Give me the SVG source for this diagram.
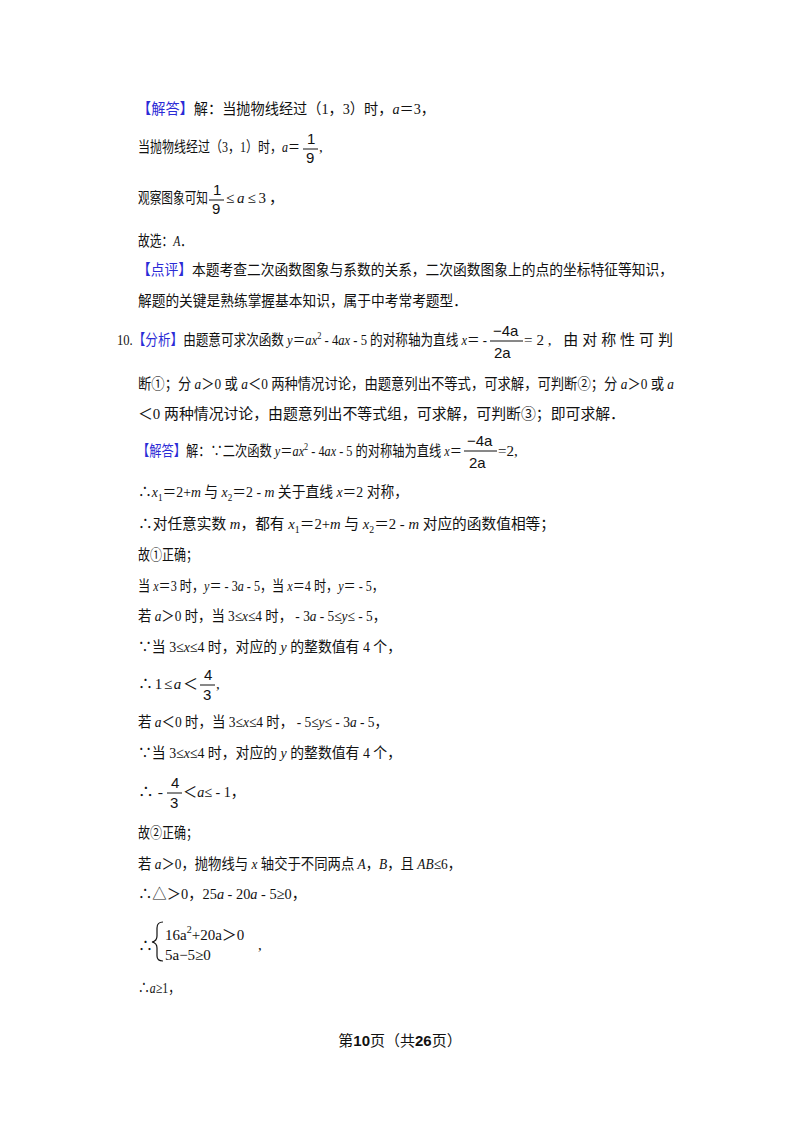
<svg xmlns="http://www.w3.org/2000/svg" width="800" height="1132" viewBox="0 0 800 1132">
<style>
text{font-family:"Liberation Serif","Noto Sans CJK SC",serif;font-size:15px;fill:#111}
.b{fill:#2b2bd6}
.i{font-style:italic}
.f{font-family:"Liberation Sans","Noto Sans CJK SC",sans-serif;font-size:15px}
.s{font-size:10px}
</style>
<rect width="800" height="1132" fill="#fff"/>
<text x="137" y="114" textLength="298" lengthAdjust="spacingAndGlyphs"><tspan class="b">【解答】</tspan>解：当抛物线经过（1，3）时，<tspan class="i">a</tspan>＝3，</text>
<text x="138" y="152" textLength="162" lengthAdjust="spacingAndGlyphs">当抛物线经过（3，1）时，<tspan class="i">a</tspan>＝</text>
<text x="307" y="144" class="f">1</text><line x1="303" y1="149" x2="318" y2="149" stroke="#111"/><text x="306" y="163" class="f">9</text><text x="319" y="152">,</text>
<text x="138" y="203" textLength="70" lengthAdjust="spacingAndGlyphs">观察图象可知</text>
<text x="213" y="195" class="f">1</text><line x1="209" y1="200" x2="224" y2="200" stroke="#111"/><text x="212" y="214" class="f">9</text>
<text x="226" y="203" textLength="58">≤<tspan class="i">a</tspan>≤3，</text>
<text x="138" y="246" textLength="54" lengthAdjust="spacingAndGlyphs">故选：<tspan class="i">A</tspan>．</text>
<text x="137" y="275" textLength="536" lengthAdjust="spacingAndGlyphs"><tspan class="b">【点评】</tspan>本题考查二次函数图象与系数的关系，二次函数图象上的点的坐标特征等知识，</text>
<text x="138" y="306" textLength="329" lengthAdjust="spacingAndGlyphs">解题的关键是熟练掌握基本知识，属于中考常考题型．</text>
<text x="117" y="345" textLength="370" lengthAdjust="spacingAndGlyphs">10.<tspan class="b">【分析】</tspan>由题意可求次函数 <tspan class="i">y</tspan>＝<tspan class="i">ax</tspan><tspan class="s" dy="-6">2</tspan><tspan dy="6"> - 4</tspan><tspan class="i">ax</tspan> - 5 的对称轴为直线 <tspan class="i">x</tspan>＝ -</text>
<text x="493" y="336" class="f">−4a</text><line x1="490" y1="341" x2="523" y2="341" stroke="#111"/><text x="494" y="358" class="f">2a</text>
<text x="524" y="345" textLength="149">=2, 由对称性可判</text>
<text x="138" y="389" textLength="536" lengthAdjust="spacingAndGlyphs">断①；分 <tspan class="i">a</tspan>＞0 或 <tspan class="i">a</tspan>＜0 两种情况讨论，由题意列出不等式，可求解，可判断②；分 <tspan class="i">a</tspan>＞0 或 <tspan class="i">a</tspan></text>
<text x="138" y="419" textLength="487" lengthAdjust="spacingAndGlyphs">＜0 两种情况讨论，由题意列出不等式组，可求解，可判断③；即可求解．</text>
<text x="137" y="456" textLength="325" lengthAdjust="spacingAndGlyphs"><tspan class="b">【解答】</tspan>解：∵二次函数 <tspan class="i">y</tspan>＝<tspan class="i">ax</tspan><tspan class="s" dy="-6">2</tspan><tspan dy="6"> - 4</tspan><tspan class="i">ax</tspan> - 5 的对称轴为直线 <tspan class="i">x</tspan>＝</text>
<text x="467" y="446" class="f">−4a</text><line x1="464" y1="451" x2="497" y2="451" stroke="#111"/><text x="469" y="468" class="f">2a</text>
<text x="498" y="456">=2,</text>
<text x="138" y="497" textLength="270" lengthAdjust="spacingAndGlyphs">∴<tspan class="i">x</tspan><tspan class="s" dy="4">1</tspan><tspan dy="-4">＝2+</tspan><tspan class="i">m</tspan> 与 <tspan class="i">x</tspan><tspan class="s" dy="4">2</tspan><tspan dy="-4">＝2 - </tspan><tspan class="i">m</tspan> 关于直线 <tspan class="i">x</tspan>＝2 对称，</text>
<text x="138" y="529" textLength="417" lengthAdjust="spacingAndGlyphs">∴对任意实数 <tspan class="i">m</tspan>，都有 <tspan class="i">x</tspan><tspan class="s" dy="4">1</tspan><tspan dy="-4">＝2+</tspan><tspan class="i">m</tspan> 与 <tspan class="i">x</tspan><tspan class="s" dy="4">2</tspan><tspan dy="-4">＝2 - </tspan><tspan class="i">m</tspan> 对应的函数值相等；</text>
<text x="138" y="560" textLength="60" lengthAdjust="spacingAndGlyphs">故①正确；</text>
<text x="138" y="591" textLength="246" lengthAdjust="spacingAndGlyphs">当 <tspan class="i">x</tspan>＝3 时，<tspan class="i">y</tspan>＝ - 3<tspan class="i">a</tspan> - 5，当 <tspan class="i">x</tspan>＝4 时，<tspan class="i">y</tspan>＝ - 5，</text>
<text x="138" y="621" textLength="248" lengthAdjust="spacingAndGlyphs">若 <tspan class="i">a</tspan>＞0 时，当 3≤<tspan class="i">x</tspan>≤4 时， - 3<tspan class="i">a</tspan> - 5≤<tspan class="i">y</tspan>≤ - 5，</text>
<text x="138" y="652" textLength="263" lengthAdjust="spacingAndGlyphs">∵当 3≤<tspan class="i">x</tspan>≤4 时，对应的 <tspan class="i">y</tspan> 的整数值有 4 个，</text>
<text x="138" y="689" textLength="60">∴1≤<tspan class="i">a</tspan>＜</text>
<text x="204" y="680" class="f">4</text><line x1="200" y1="685" x2="215" y2="685" stroke="#111"/><text x="203" y="700" class="f">3</text><text x="216" y="689">,</text>
<text x="138" y="727" textLength="250" lengthAdjust="spacingAndGlyphs">若 <tspan class="i">a</tspan>＜0 时，当 3≤<tspan class="i">x</tspan>≤4 时， - 5≤<tspan class="i">y</tspan>≤ - 3<tspan class="i">a</tspan> - 5，</text>
<text x="138" y="758" textLength="263" lengthAdjust="spacingAndGlyphs">∵当 3≤<tspan class="i">x</tspan>≤4 时，对应的 <tspan class="i">y</tspan> 的整数值有 4 个，</text>
<text x="138" y="797" textLength="25" lengthAdjust="spacingAndGlyphs">∴ -</text>
<text x="171" y="788" class="f">4</text><line x1="167" y1="793" x2="182" y2="793" stroke="#111"/><text x="170" y="808" class="f">3</text>
<text x="183" y="797" textLength="62" lengthAdjust="spacingAndGlyphs">＜<tspan class="i">a</tspan>≤ - 1，</text>
<text x="138" y="838" textLength="60" lengthAdjust="spacingAndGlyphs">故②正确；</text>
<text x="138" y="869" textLength="323" lengthAdjust="spacingAndGlyphs">若 <tspan class="i">a</tspan>＞0，抛物线与 <tspan class="i">x</tspan> 轴交于不同两点 <tspan class="i">A</tspan>，<tspan class="i">B</tspan>，且 <tspan class="i">AB</tspan>≤6，</text>
<text x="138" y="899" textLength="168" lengthAdjust="spacingAndGlyphs">∴△＞0，25<tspan class="i">a</tspan> - 20<tspan class="i">a</tspan> - 5≥0，</text>
<text x="138" y="951">∴</text>
<path d="M163 922 Q157 922 157 928 L157 936 Q157 941 152 942 Q157 943 157 948 L157 956 Q157 961 163 961" fill="none" stroke="#111" stroke-width="1.2"/>
<text x="165" y="940">16a<tspan class="s" dy="-7">2</tspan><tspan dy="7">+20a＞0</tspan></text>
<text x="165" y="960">5a−5≥0</text>
<text x="258" y="950">,</text>
<text x="138" y="993" textLength="42" lengthAdjust="spacingAndGlyphs">∴<tspan class="i">a</tspan>≥1，</text>
<text x="400" y="1046" text-anchor="middle" font-size="13">第<tspan font-weight="bold" font-size="15" font-family="Liberation Sans">10</tspan>页（共<tspan font-weight="bold" font-size="15" font-family="Liberation Sans">26</tspan>页）</text>
</svg>
